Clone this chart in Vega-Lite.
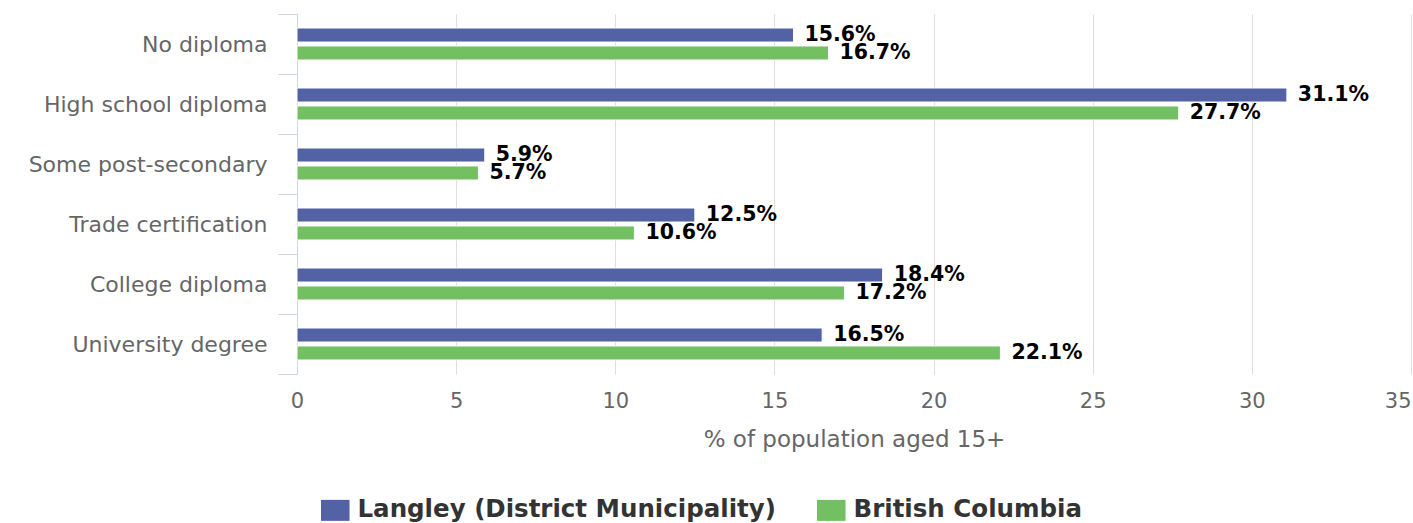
{
  "$schema": "https://vega.github.io/schema/vega-lite/v6.json",
  "width": 1114,
  "height": 360,
  "autosize": "none",
  "padding": {"left": 297, "top": 14, "right": 2, "bottom": 149},
  "background": "white",
  "config": {
    "view": {"stroke": null},
    "font": "DejaVu Sans"
  },
  "data": {
    "values": [
      {"category": "No diploma", "series": "Langley (District Municipality)", "pct": 15.6},
      {"category": "No diploma", "series": "British Columbia", "pct": 16.7},
      {"category": "High school diploma", "series": "Langley (District Municipality)", "pct": 31.1},
      {"category": "High school diploma", "series": "British Columbia", "pct": 27.7},
      {"category": "Some post-secondary", "series": "Langley (District Municipality)", "pct": 5.9},
      {"category": "Some post-secondary", "series": "British Columbia", "pct": 5.7},
      {"category": "Trade certification", "series": "Langley (District Municipality)", "pct": 12.5},
      {"category": "Trade certification", "series": "British Columbia", "pct": 10.6},
      {"category": "College diploma", "series": "Langley (District Municipality)", "pct": 18.4},
      {"category": "College diploma", "series": "British Columbia", "pct": 17.2},
      {"category": "University degree", "series": "Langley (District Municipality)", "pct": 16.5},
      {"category": "University degree", "series": "British Columbia", "pct": 22.1}
    ]
  },
  "transform": [
    {"calculate": "format(datum.pct, '.1f') + '%'", "as": "label"}
  ],
  "encoding": {
    "y": {
      "field": "category",
      "type": "nominal",
      "sort": ["No diploma", "High school diploma", "Some post-secondary", "Trade certification", "College diploma", "University degree"],
      "scale": {"paddingInner": 0, "paddingOuter": 0},
      "axis": {
        "title": null,
        "domainColor": "#ccd6eb",
        "domainWidth": 1,
        "tickColor": "#ccd6eb",
        "tickSize": 19,
        "tickBand": "extent",
        "labelPadding": 11,
        "labelFont": "DejaVu Sans",
        "labelFontSize": 22,
        "labelColor": "#666666",
        "labelLimit": 400,
        "grid": false
      }
    },
    "yOffset": {
      "field": "series",
      "type": "nominal",
      "sort": ["Langley (District Municipality)", "British Columbia"],
      "scale": {"paddingInner": 0.22, "paddingOuter": 0.78}
    },
    "x": {
      "field": "pct",
      "type": "quantitative",
      "scale": {"domain": [0, 35], "nice": false},
      "axis": {
        "title": "% of population aged 15+",
        "values": [0, 5, 10, 15, 20, 25, 30, 35],
        "domain": false,
        "ticks": false,
        "grid": true,
        "gridColor": "#dedede",
        "gridWidth": 1,
        "labelFlush": false,
        "labelAlign": {"condition": {"test": "datum.value == 35", "value": "right"}, "value": "center"},
        "labelFont": "DejaVu Sans",
        "labelFontSize": 21,
        "labelColor": "#666666",
        "labelPadding": 16,
        "titleFont": "DejaVu Sans",
        "titleFontSize": 23,
        "titleFontWeight": "normal",
        "titleColor": "#666666",
        "titlePadding": 17
      }
    }
  },
  "layer": [
    {
      "mark": {"type": "bar", "stroke": "white", "strokeWidth": 1},
      "encoding": {
        "color": {
          "field": "series",
          "type": "nominal",
          "sort": ["Langley (District Municipality)", "British Columbia"],
          "scale": {"domain": ["Langley (District Municipality)", "British Columbia"], "range": ["#5262a5", "#72c062"]},
          "legend": {
            "title": null,
            "orient": "none",
            "direction": "horizontal",
            "legendX": 26,
            "legendY": 484,
            "symbolType": "M-1.36,-1H1.36V1H-1.36Z",
            "symbolSize": 441,
            "symbolStrokeWidth": 0,
            "symbolOpacity": 1,
            "labelFont": "DejaVu Sans",
            "labelFontSize": 24.5,
            "labelFontWeight": "bold",
            "labelColor": "#333333",
            "labelOffset": 10,
            "labelLimit": 700,
            "columnPadding": 40
          }
        }
      }
    },
    {
      "mark": {"type": "text", "align": "left", "baseline": "middle", "dx": 11, "font": "DejaVu Sans", "fontSize": 20.5, "fontWeight": "bold", "color": "#000000"},
      "encoding": {
        "text": {"field": "label", "type": "nominal"}
      }
    }
  ]
}
